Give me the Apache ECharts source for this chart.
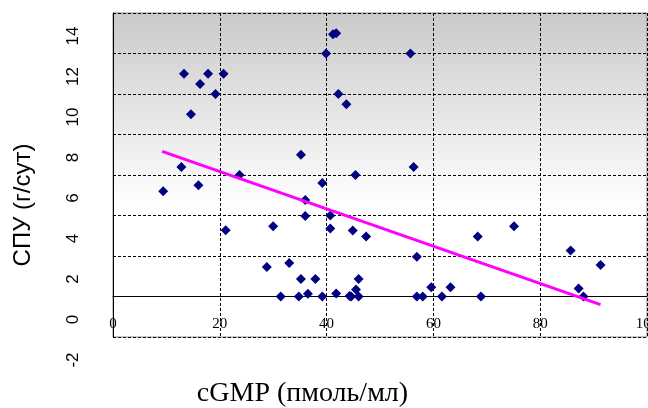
<!DOCTYPE html>
<html>
<head>
<meta charset="utf-8">
<script src="https://cdn.jsdelivr.net/npm/echarts@6/dist/echarts.min.js"></script>
<style>html,body{margin:0;padding:0;background:#fff}#c{width:648px;height:408px}</style>
</head>
<body>
<div id="c"></div>
<script>
// cGMP (pmol/ml) values
const xValues = [9.4,12.8,13.3,14.6,16.0,16.3,17.8,19.2,20.7,21.1,23.7,28.8,30.0,31.4,33.0,34.8,35.2,35.2,36.0,36.0,36.5,37.9,39.2,39.2,39.9,40.7,40.7,41.2,41.8,41.8,42.2,43.7,44.3,44.6,44.9,45.4,45.5,46.0,46.0,47.4,55.7,56.3,56.9,56.9,58.0,59.6,61.6,63.2,68.3,68.9,75.1,85.7,87.2,88.1,91.3];
// SPU (g/day) values
const yValues = [5.2,6.4,11.0,9.0,5.5,10.5,11.0,10.0,11.0,3.27,6.0,1.46,3.47,0,1.66,0,0.87,7.0,4.77,3.97,0.13,0.87,0,5.6,12.0,4.0,3.36,12.95,13.0,0.15,10.0,9.5,0.02,0,3.26,6.0,0.35,0.87,0,2.96,12.0,6.4,1.96,0,0,0.46,0,0.46,2.96,0,3.47,2.27,0.4,0,1.56];
// trend line endpoints
const trendX = [9.2, 91.3];
const trendY = [7.17, -0.4];
const yTicks = [-2,0,2,4,6,8,10,12,14];
const xTicks = [0,20,40,60,80,100];

const points = xValues.map((x,i)=>[x,yValues[i]]);
const trend = trendX.map((x,i)=>[x,trendY[i]]);

const chart = echarts.init(document.getElementById('c'), null, {renderer:'canvas'});
chart.setOption({
  animation:false,
  grid:{left:113, top:13, right:1, bottom:71, outerBoundsMode:'none', containLabel:false, show:true, borderColor:'#8a8a8a', borderWidth:1,
    backgroundColor:{type:'linear',x:0,y:0,x2:0,y2:1,colorStops:[{offset:0,color:'#cacaca'},{offset:0.6,color:'#ffffff'},{offset:1,color:'#ffffff'}]}},
  xAxis:[{
    type:'value', min:xTicks[0], max:xTicks[xTicks.length-1], interval:20,
    axisLine:{onZero:true, lineStyle:{color:'#000',width:1}},
    axisTick:{show:false},
    axisLabel:{color:'#000', fontFamily:'Liberation Serif', fontSize:15, margin:-20, hideOverlap:false},
    splitLine:{show:true, lineStyle:{color:'#000', type:[3,2], width:1}},
    name:'cGMP (пмоль/мл)', nameLocation:'middle', nameGap:43,
    nameTextStyle:{color:'#000', fontFamily:'Liberation Serif', fontSize:28, padding:[0,155,0,0]}
  }],
  yAxis:[{
    type:'value', min:yTicks[0], max:yTicks[yTicks.length-1], interval:2,
    axisLine:{show:true, onZero:false, lineStyle:{color:'#000',width:1}},
    axisTick:{show:false},
    axisLabel:{color:'#000', fontFamily:'Liberation Sans', fontSize:17, rotate:90, margin:31, padding:[0,46,0,0]},
    splitLine:{show:true, lineStyle:{color:'#000', type:[3,2], width:1}},
    name:'СПУ (г/сут)', nameLocation:'middle', nameGap:78,
    nameTextStyle:{color:'#000', fontFamily:'Liberation Sans', fontSize:24, padding:[0,60,0,0]}
  }],
  series:[
    {type:'scatter', data:points, symbol:'diamond', symbolSize:10, itemStyle:{color:'#000080', opacity:1}, z:3},
    {type:'line', data:trend, symbol:'none', lineStyle:{color:'#ff00ff', width:3}, z:4}
  ]
});
</script>
</body>
</html>
